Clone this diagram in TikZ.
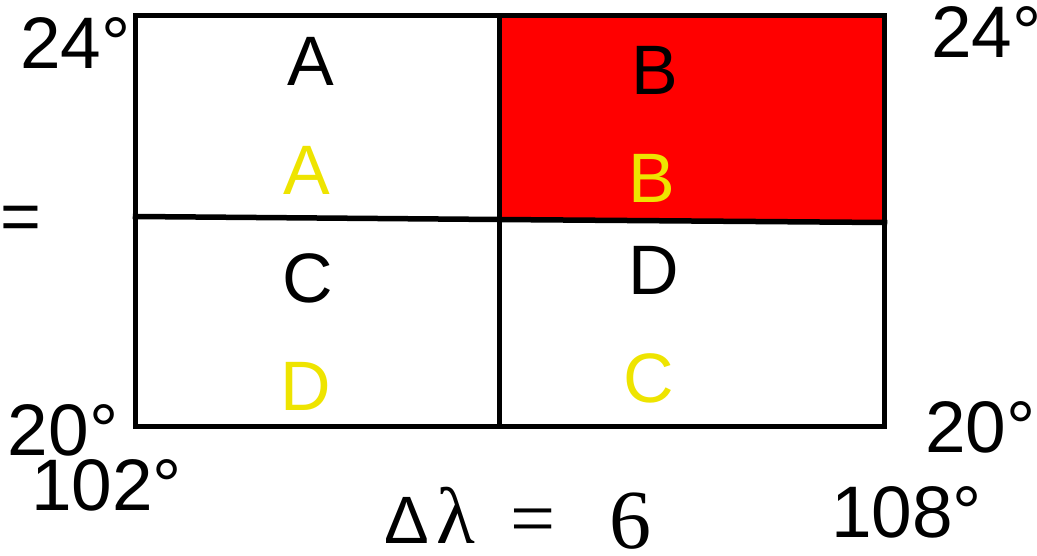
\documentclass[tikz,border=0pt]{standalone}
\usepackage{fontspec}
\setmainfont{Liberation Sans}
\newfontfamily\serifface{Liberation Serif}
\definecolor{labyellow}{RGB}{238,228,0}
\definecolor{cellred}{RGB}{255,0,0}
\tikzset{
  grid line/.style={line width=5.5pt, line join=miter, line cap=rect},
  big/.style={font=\fontsize{70}{84}\selectfont, inner sep=0pt, outer sep=0pt},
  cellblack/.style={big, anchor=base, text=black},
  cellyellow/.style={big, anchor=base, text=labyellow},
  deglabel/.style={big, anchor=base west, font=\fontsize{73}{88}\selectfont},
  serifbig/.style={font=\fontsize{80}{96}\selectfont\serifface, inner sep=0pt, anchor=base west},
}
\begin{document}
\begin{tikzpicture}[x=1pt,y=-1pt]
\useasboundingbox (0,0) rectangle (1037,555);
% corners
\coordinate (tl) at (135.5,15.5);
\coordinate (tm) at (499.5,15.5);
\coordinate (tr) at (884.5,15.5);
\coordinate (bl) at (135.5,426.5);
\coordinate (bm) at (499.5,426.5);
\coordinate (br) at (884.5,426.5);
\coordinate (ml) at (135.5,216.5);
\coordinate (mm) at (499.5,219.5);
\coordinate (mr) at (884.5,222.5);
% red cell
\fill[cellred] (tm) -- (tr) -- (mr) -- (mm) -- cycle;
% grid
\draw[grid line] (tl) rectangle (br);
\draw[grid line] (tm) -- (bm);
\draw[grid line] (ml) -- (mm) -- (mr);
% cell letters
\node[cellblack]  (a1) at (311,85)  {A};
\node[cellyellow] (a2) at (307,194) {A};
\node[cellblack]  (b1) at (655,94)  {B};
\node[cellyellow] (b2) at (652,202) {B};
\node[cellblack]  (c1) at (308,302) {C};
\node[cellyellow] (d2) at (306,410) {D};
\node[cellblack]  (d1) at (654,294) {D};
\node[cellyellow] (c2) at (649,402) {C};
% degree labels
\node[deglabel] (lat24l) at (20,68)   {24°};
\node[deglabel] (lat24r) at (931,57)  {24°};
\node[deglabel] (lat20l) at (8,455)   {20°};
\node[deglabel] (lat20r) at (925,452) {20°};
\node[deglabel] (lon102) at (31,510)  {102°};
\node[deglabel] (lon108) at (831,537) {108°};
% left equals sign
\node[big, anchor=base west] (eqleft) at (0,240) {=};
% delta lambda = 6
\node[big, anchor=base west, font=\fontsize{67}{80}\selectfont] (dlt) at (384,543) {Δ};
\node[serifbig] (lam) at (436,543) {λ};
\node[serifbig] (eqs) at (510,545) {=};
\node[serifbig, font=\fontsize{84}{100}\selectfont\serifface] (six) at (609,548) {6};
\end{tikzpicture}
\end{document}
